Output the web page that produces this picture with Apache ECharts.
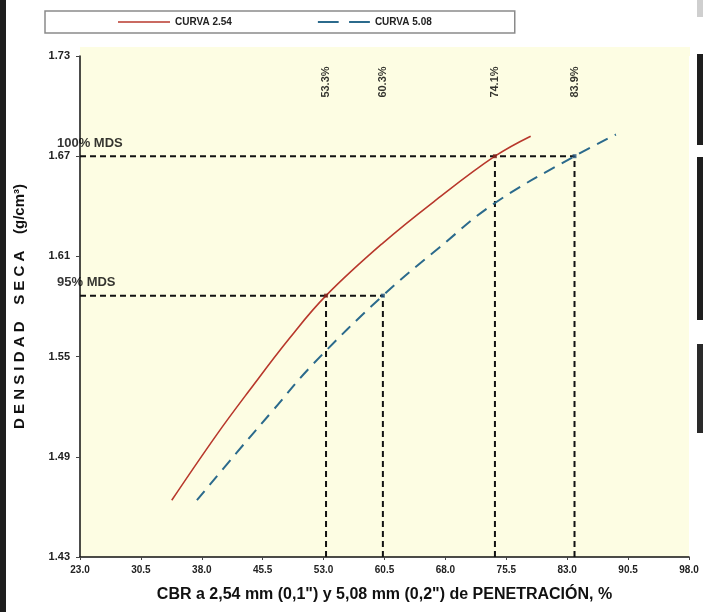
<!DOCTYPE html>
<html>
<head>
<meta charset="utf-8">
<script src="https://cdn.jsdelivr.net/npm/echarts@6/dist/echarts.min.js"></script>
<style>
  html, body { margin: 0; padding: 0; background: #fff; }
  #chart { width: 703px; height: 612px; }
</style>
</head>
<body>
<div id="chart"></div>
<script>
  // ejes
  const xTicks = [23.0, 30.5, 38.0, 45.5, 53.0, 60.5, 68.0, 75.5, 83.0, 90.5, 98.0];
  const yTicks = [1.43, 1.49, 1.55, 1.61, 1.67, 1.73];

  // curvas
  const curva254X = [34.3, 39.8, 43.9, 48.8, 53.3, 60.3, 66.9, 74.1, 78.5];
  const curva254Y = [1.464, 1.503, 1.530, 1.561, 1.5865, 1.618, 1.644, 1.670, 1.682];
  const curva508X = [37.4, 42.3, 46.8, 51.7, 60.3, 67.3, 74.1, 83.9, 89.0];
  const curva508Y = [1.464, 1.4925, 1.518, 1.5455, 1.5865, 1.6155, 1.642, 1.670, 1.683];

  // niveles MDS y cortes
  const mdsNames = ['100% MDS', '95% MDS'];
  const mdsLevels = [1.67, 1.5865];
  const hitX = [53.3, 60.3, 74.1, 83.9];
  const hitY = [1.5865, 1.5865, 1.67, 1.67];
  const hitCurve = [0, 1, 0, 1];

  const RED = '#b8382c';
  const BLUE = '#2b6a8c';
  const FONT = '"Liberation Sans", Arial, sans-serif';

  const zip = (a, b) => a.map((v, i) => [v, b[i]]);

  const series = [
    {
      name: 'CURVA 2.54', type: 'line', smooth: 0.4, showSymbol: false,
      data: zip(curva254X, curva254Y),
      lineStyle: { color: RED, width: 1.6 }, itemStyle: { color: RED }, z: 5
    },
    {
      name: 'CURVA 5.08', type: 'line', smooth: 0.4, showSymbol: false,
      data: zip(curva508X, curva508Y),
      lineStyle: { color: BLUE, width: 2, type: [12, 8] }, itemStyle: { color: BLUE }, z: 5
    }
  ]

  // lineas de referencia horizontales
  mdsLevels.forEach((lv, i) => {
    const maxX = Math.max(...hitX.filter((x, j) => hitY[j] === lv))
    series.push({
      type: 'line', showSymbol: false, silent: true,
      data: [[xTicks[0], lv], [maxX, lv]],
      lineStyle: { color: '#111', width: 2, type: [6, 4] }, z: 3
    })
    series.push({
      type: 'scatter', symbolSize: 0, silent: true,
      data: [[xTicks[0], lv]],
      label: {
        show: true, formatter: mdsNames[i], position: 'inside', align: 'left',
        offset: [-23, -13], fontFamily: FONT, fontWeight: 'bold', fontSize: 13, color: '#000'
      }, z: 6
    })
  })

  // verticales + etiquetas superiores
  hitX.forEach((x, i) => {
    series.push({
      type: 'line', showSymbol: false, silent: true,
      data: [[x, yTicks[0]], [x, hitY[i]]],
      lineStyle: { color: '#111', width: 2, type: [6, 4] }, z: 3
    })
  })
  series.push({
    type: 'scatter', symbolSize: 0, silent: true,
    data: hitX.map(x => [x, 1.721]),
    label: {
      show: true, position: 'inside', rotate: 90, offset: [-11, 0],
      formatter: p => p.value[0].toFixed(1) + '%',
      fontFamily: FONT, fontWeight: 'bold', fontSize: 11, color: '#000'
    }
  })
  series.push({
    type: 'scatter', symbol: 'rect', symbolSize: 4, silent: true,
    data: hitX.map((x, i) => ({ value: [x, hitY[i]], itemStyle: { color: hitCurve[i] ? '#1d4f7a' : '#7a1f18' } })),
    z: 7
  })

  const chart = echarts.init(document.getElementById('chart'))
  chart.setOption({
    animation: false,
    backgroundColor: '#fff',
    textStyle: { fontFamily: FONT },
    legend: {
      data: [
        { name: 'CURVA 2.54', icon: 'path://M0,0 L50,0 L50,1.6 L0,1.6 Z' },
        { name: 'CURVA 5.08', icon: 'path://M0,0 L20,0 L20,2 L0,2 Z M30,0 L50,0 L50,2 L30,2 Z' }
      ],
      left: 45, top: 11,
      itemWidth: 52, itemHeight: 8, itemGap: 86,
      padding: [6, 83, 6, 73],
      borderColor: '#8a8a8a', borderWidth: 1.5, backgroundColor: '#fff',
      textStyle: { fontFamily: FONT, fontWeight: 'bold', fontSize: 10, color: '#222' }
    },
    grid: {
      left: 80, right: 14, top: 56, bottom: 55,
      show: true, backgroundColor: '#fdfde3', borderWidth: 0
    },
    xAxis: {
      type: 'value', min: xTicks[0], max: xTicks[xTicks.length - 1],
      name: 'CBR a 2,54 mm (0,1") y 5,08 mm (0,2") de PENETRACIÓN, %',
      nameLocation: 'middle', nameGap: 30,
      nameTextStyle: { fontFamily: FONT, fontWeight: 'bold', fontSize: 16, color: '#111' },
      axisLine: { lineStyle: { color: '#111', width: 1.5 } },
      axisTick: { show: true, length: 3, customValues: xTicks, lineStyle: { color: '#444' } },
      axisLabel: {
        customValues: xTicks, formatter: v => v.toFixed(1),
        fontFamily: FONT, fontWeight: 'bold', fontSize: 10, color: '#222', margin: 8
      },
      splitLine: { show: false }
    },
    yAxis: {
      type: 'value', min: yTicks[0], max: yTicks[yTicks.length - 1],
      name: 'D E N S I D A D    S E C A    (g/cm³)',
      nameLocation: 'middle', nameGap: 53,
      nameTextStyle: { fontFamily: FONT, fontWeight: 'bold', fontSize: 15, color: '#111' },
      axisLine: { show: true, lineStyle: { color: '#111', width: 1.5 } },
      axisTick: { show: true, length: 4, customValues: yTicks, lineStyle: { color: '#444' } },
      axisLabel: {
        customValues: yTicks, formatter: v => v.toFixed(2),
        fontFamily: FONT, fontWeight: 'bold', fontSize: 11, color: '#222', margin: 10
      },
      splitLine: { show: false }
    },
    graphic: [
      { type: 'rect', left: 0, top: 0, shape: { width: 6, height: 612 }, style: { fill: '#1e1e1e' } },
      { type: 'rect', left: 80, top: 47, shape: { width: 610, height: 9 }, style: { fill: '#fdfde3' }, z: -1 },
      { type: 'rect', left: 697, top: 0, shape: { width: 6, height: 17 }, style: { fill: '#cfcfcf' } },
      { type: 'rect', left: 697, top: 54, shape: { width: 6, height: 91 }, style: { fill: '#1e1e1e' } },
      { type: 'rect', left: 697, top: 157, shape: { width: 6, height: 163 }, style: { fill: '#1e1e1e' } },
      { type: 'rect', left: 697, top: 344, shape: { width: 6, height: 89 }, style: { fill: '#2a2a2a' } }
    ],
    series
  })
</script>
</body>
</html>
